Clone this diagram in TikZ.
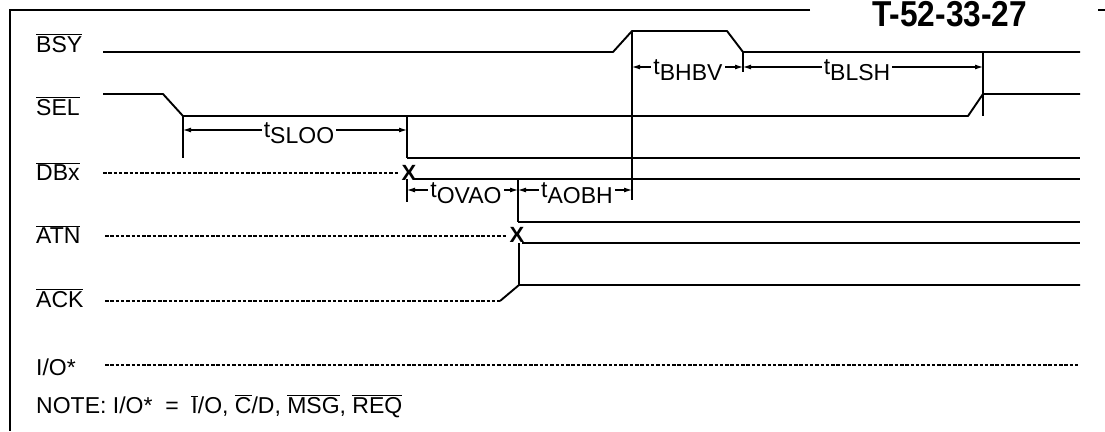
\documentclass[tikz,border=0pt]{standalone}
\usepackage{fontspec}
\setmainfont{Liberation Sans}
\usetikzlibrary{arrows.meta}
\newcommand\ob[1]{\ensuremath{\overline{\mbox{#1}}}}
\newcommand\tsb[1]{t\raisebox{-6pt}{#1}}
\begin{document}
\begin{tikzpicture}[x=1pt,y=-1pt,
  sig/.style={line width=1.9pt, line join=round},
  dsh/.style={line width=1.4pt, dash pattern=on 3.5pt off 1.8pt},
  frm/.style={line width=1.8pt},
  vln/.style={line width=1.2pt},
  dimar/.style={line width=1.1pt, {Latex[length=8pt,width=5pt]}-{Latex[length=8pt,width=5pt]}},
  lbl/.style={font=\fontsize{23}{25}\selectfont, anchor=base west, inner sep=0pt},
  tl/.style={font=\fontsize{23}{24}\selectfont, fill=white, inner sep=2pt},
  xm/.style={font=\fontsize{22}{22}\selectfont\bfseries, inner sep=0pt},
]
\useasboundingbox (0,0) rectangle (1105,431);

% frame
\coordinate (fTR) at (810,10);
\coordinate (fTL) at (10,10);
\coordinate (fBL) at (10,431);
\draw[frm] (fTR) -- (fTL) -- (fBL);
\coordinate (tk1) at (1098,10);
\coordinate (tk2) at (1105,10);
\draw[frm] (tk1) -- (tk2);
\node[anchor=base west, inner sep=0pt, font=\fontsize{36}{36}\selectfont\bfseries] (code) at (872,27) {\scalebox{0.88}[1]{T-52-33-27}};

% labels
\node[lbl] (lBSY) at (36,52) {\ob{BSY}};
\node[lbl] (lSEL) at (36,115) {\ob{SEL}};
\node[lbl] (lDBx) at (36,180) {\ob{DBx}};
\node[lbl] (lATN) at (36,243) {\ob{ATN}};
\node[lbl] (lACK) at (36,307) {\ob{ACK}};
\node[lbl] (lIO) at (36,375) {I/O*};
\node[lbl] (lNOTE) at (36,413) {NOTE: I/O*\ \ =\ \ \ob{I}/O, \ob{C}/D, \ob{MSG}, \ob{REQ}};

% key coordinates
\coordinate (b0) at (103,52);
\coordinate (b1) at (613,52);
\coordinate (b2) at (632,31);
\coordinate (b3) at (727,31);
\coordinate (b4) at (743,52);
\coordinate (b5) at (1080,52);

\coordinate (s0) at (103,94);
\coordinate (s1) at (163,94);
\coordinate (s2) at (183,116);
\coordinate (s3) at (968,116);
\coordinate (s4) at (983,94);
\coordinate (s5) at (1080,94);

% BSY
\draw[sig] (b0) -- (b1) -- (b2) -- (b3) -- (b4) -- (b5);
% SEL
\draw[sig] (s0) -- (s1) -- (s2) -- (s3) -- (s4) -- (s5);

% DBx
\coordinate (d0) at (103,173);
\coordinate (d1) at (398,173);
\node[xm] (xD) at (409,173) {X};
\coordinate (du0) at (407,158);
\coordinate (du1) at (1080,158);
\coordinate (dl0) at (414,179);
\coordinate (dl1) at (1080,179);
\draw[dsh] (d0) -- (d1);
\draw[sig] (du0) -- (du1);
\draw[sig] (dl0) -- (dl1);

% ATN
\coordinate (a0) at (105,236);
\coordinate (a1) at (506,236);
\node[xm] (xA) at (517,235) {X};
\coordinate (au0) at (518,222);
\coordinate (au1) at (1080,222);
\coordinate (al0) at (522,243);
\coordinate (al1) at (1080,243);
\draw[dsh] (a0) -- (a1);
\draw[sig] (au0) -- (au1);
\draw[sig] (al0) -- (al1);

% ACK
\coordinate (k0) at (105,301);
\coordinate (k1) at (500,301);
\coordinate (k2) at (519,285);
\coordinate (k3) at (1080,285);
\draw[dsh] (k0) -- (k1);
\draw[sig] (k1) -- (k2) -- (k3);

% I/O*
\coordinate (i0) at (105,365);
\coordinate (i1) at (1080,365);
\draw[dsh] (i0) -- (i1);

% vertical reference lines
\coordinate (v1a) at (183,158);
\coordinate (v2a) at (407,115);
\coordinate (v2b) at (407,179);
\coordinate (v2c) at (407,202);
\coordinate (v3a) at (518,180);
\coordinate (v3b) at (519,243);
\coordinate (v4a) at (632,200);
\coordinate (v5a) at (743,72);
\coordinate (v6a) at (983,52);
\coordinate (v6b) at (983,116);
\draw[vln] (s2) -- (v1a);
\draw[vln] (v2a) -- (du0);
\draw[vln] (v2b) -- (v2c);
\draw[vln] (v3a) -- (au0);
\draw[vln] (v3b) -- (k2);
\draw[vln] (b2) -- (v4a);
\draw[vln] (b4) -- (v5a);
\draw[vln] (v6a) -- (v6b);

% timing arrows
\coordinate (ts0) at (183,130);
\coordinate (ts1) at (407,130);
\coordinate (to0) at (407,190);
\coordinate (to1) at (518,190);
\coordinate (ta1) at (632,190);
\coordinate (tb0) at (632,67);
\coordinate (tb1) at (743,67);
\coordinate (tc1) at (983,67);
\draw[dimar] (ts0) -- (ts1);
\draw[dimar] (to0) -- (to1);
\draw[dimar] (to1) -- (ta1);
\draw[dimar] (tb0) -- (tb1);
\draw[dimar] (tb1) -- (tc1);
\node[tl, yshift=-3pt] (nSLOO) at (299,130) {\tsb{SLOO}};
\node[tl, yshift=-3pt] (nOVAO) at (466,190) {\tsb{OVAO}};
\node[tl, yshift=-3pt] (nAOBH) at (577,190) {\tsb{AOBH}};
\node[tl, yshift=-3pt] (nBHBV) at (688,67) {\tsb{BHBV}};
\node[tl, yshift=-3pt] (nBLSH) at (857,67) {\tsb{BLSH}};
\end{tikzpicture}
\end{document}
